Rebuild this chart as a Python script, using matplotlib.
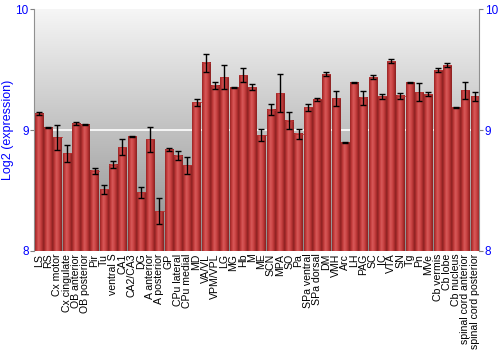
import numpy as np
import matplotlib
matplotlib.use("Agg")
import matplotlib.pyplot as plt
from matplotlib.colors import LinearSegmentedColormap

categories = ["LS", "RS", "Cx motor", "Cx cingulate", "OB anterior", "OB posterior",
              "Pir", "Tu", "ventral S", "CA1", "CA2/CA3", "DG", "A anterior",
              "A posterior", "GP", "CPu lateral", "CPu medial", "MD", "VA/VL",
              "VPM/VPL", "LG", "MG", "Hb", "M", "ME", "SCN", "MPA", "SO", "Pa",
              "SPa ventral", "SPa dorsal", "DM", "VMH", "Arc", "LH", "PAG", "SC",
              "IC", "VTA", "SN", "Tg", "Pn", "MVe", "Cb vermis", "Cb lobe",
              "Cb nucleus", "spinal cord anterior", "spinal cord posterior"]
values = [9.138, 9.02, 8.94, 8.81, 9.055, 9.045,
          8.666, 8.51, 8.715, 8.86, 8.948, 8.486, 8.925,
          8.328, 8.84, 8.79, 8.71, 9.23, 9.56,
          9.37, 9.44, 9.354, 9.456, 9.357, 8.96, 9.17, 9.307, 9.08, 8.97,
          9.19, 9.255, 9.464, 9.265, 8.90, 9.395, 9.27, 9.44,
          9.28, 9.572, 9.284, 9.398, 9.315, 9.30, 9.497, 9.54,
          9.188, 9.33, 9.28]
errors = [0.015, 0.004, 0.105, 0.07, 0.01, 0.006,
          0.025, 0.04, 0.03, 0.065, 0.005, 0.047, 0.105,
          0.108, 0.015, 0.04, 0.07, 0.03, 0.075,
          0.03, 0.1, 0.004, 0.06, 0.022, 0.05, 0.047, 0.16, 0.07, 0.04,
          0.03, 0.014, 0.018, 0.062, 0.005, 0.004, 0.058, 0.017,
          0.02, 0.015, 0.026, 0.004, 0.076, 0.015, 0.014, 0.018,
          0.005, 0.072, 0.037]
yticks = [8, 9, 10]
ylabel = "Log2 (expression)"

FAM = ["Liberation Sans", "DejaVu Sans"]

fig = plt.figure(figsize=(5, 3.5), dpi=100)
ax = fig.add_axes([0.0686, 0.283, 0.89, 0.69])
ymin, ymax = 8, 10
n = len(categories)
x = np.arange(n)

# background gradient: light at top, darker at bottom
bg = np.linspace(0, 1, 256).reshape(-1, 1)
bgcmap = LinearSegmentedColormap.from_list("bg", ["#f6f6f6", "#8c8c8c"])
ax.imshow(bg, aspect="auto", cmap=bgcmap, extent=[0, 1, 0, 1],
          transform=ax.transAxes, zorder=0)
ax.axhline(9, color="white", lw=1.2, zorder=1)

# bars with cylinder gradient
w = 0.88
barcmap = LinearSegmentedColormap.from_list(
    "bar", ["#962424", "#c43c3c", "#d85a5a", "#cc4646", "#b03030", "#882020"])
grad = np.linspace(0, 1, 64).reshape(1, -1)
for xi, v in zip(x, values):
    ax.imshow(grad, aspect="auto", cmap=barcmap,
              extent=[xi - w / 2, xi + w / 2, ymin, v], zorder=2)
    ax.plot([xi - w / 2, xi + w / 2], [v, v], color="#b83434", lw=0.6, zorder=2.5)
ax.errorbar(x, values, yerr=errors, fmt="none", ecolor="black", elinewidth=1,
            capsize=2.2, capthick=1, zorder=3)
ax.set_xlim(-0.5, n - 0.5)
ax.set_ylim(ymin, ymax)

ax.set_xticks(x)
ax.set_xticklabels(categories, rotation=90, fontsize=7.6, family=FAM)
ax.tick_params(axis="x", length=0, pad=2)
ax.set_yticks(yticks)
ax.set_yticklabels([str(t) for t in yticks])
ax.tick_params(axis="y", colors="#808080", labelcolor="blue", labelsize=8.5,
               length=3, pad=1, right=True, labelright=True, direction="out")
for lbl in ax.get_yticklabels():
    lbl.set_family(FAM)
ax.set_ylabel(ylabel, color="blue", fontsize=9, family=FAM, labelpad=1)
for s in ["top", "bottom"]:
    ax.spines[s].set_visible(False)
for s in ["left", "right"]:
    ax.spines[s].set_color("#909090")

fig.savefig("out.png", dpi=100)
